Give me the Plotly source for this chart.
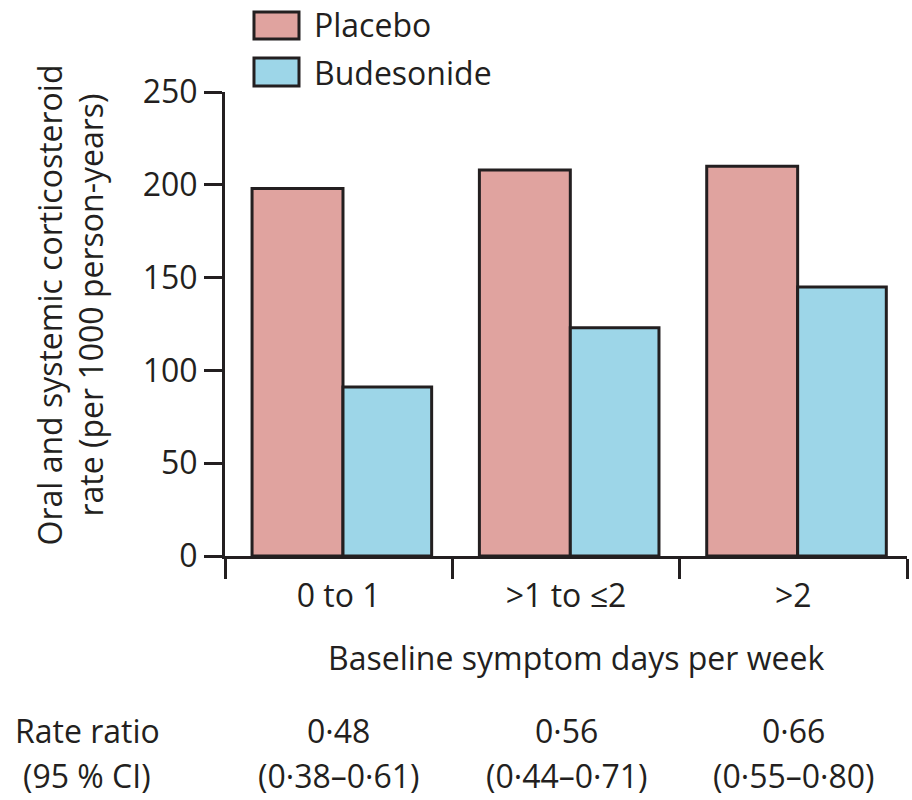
import plotly.graph_objects as go

categories = ["0 to 1", ">1 to ≤2", ">2"]
placebo = [198, 208, 210]
budesonide = [91, 123, 145]
rate_ratio = ["0·48", "0·56", "0·66"]
ci = ["(0·38–0·61)", "(0·44–0·71)", "(0·55–0·80)"]
y_ticks = [0, 50, 100, 150, 200, 250]

INK = "#231f20"
FONT = "Open Sans"
FS = 32
PLACEBO_C = "#e0a39f"
BUDE_C = "#9dd6e8"

fig = go.Figure()
fig.add_trace(go.Bar(name="Placebo", x=categories, y=placebo, width=0.40, offset=-0.381,
                     marker=dict(color=PLACEBO_C, line=dict(color=INK, width=3))))
fig.add_trace(go.Bar(name="Budesonide", x=categories, y=budesonide, width=0.39, offset=0.019,
                     marker=dict(color=BUDE_C, line=dict(color=INK, width=3))))

fig.update_layout(
    width=912, height=800,
    margin=dict(l=225, r=5, t=92, b=244),
    paper_bgcolor="white", plot_bgcolor="white",
    barmode="overlay",
    showlegend=False,
    font=dict(family=FONT, size=FS, color=INK),
)
fig.update_xaxes(
    type="category", range=[-0.5, 2.5],
    showline=True, linecolor=INK, linewidth=3,
    ticks="outside", tickson="boundaries", ticklen=20, tickwidth=3, tickcolor=INK,
    tickfont=dict(family=FONT, size=FS, color=INK),
    ticklabelstandoff=10,
    showgrid=False, zeroline=False,
)
fig.update_yaxes(
    range=[0, 250], tickvals=y_ticks,
    showline=True, linecolor=INK, linewidth=3,
    ticks="outside", ticklen=18, tickwidth=3, tickcolor=INK,
    tickfont=dict(family=FONT, size=FS, color=INK),
    ticklabelstandoff=0,
    showgrid=False, zeroline=False,
)

# legend (manual)
legend_items = [("Placebo", PLACEBO_C, 1.1142, 1.1724, 1.1444),
                ("Budesonide", BUDE_C, 1.0129, 1.0733, 1.0431)]
for name, col, y0, y1, yt in legend_items:
    fig.add_shape(type="rect", xref="paper", yref="paper",
                  x0=0.0425, x1=0.1085, y0=y0, y1=y1,
                  fillcolor=col, line=dict(color=INK, width=3))
    fig.add_annotation(text=name, xref="paper", yref="paper", x=0.127, y=yt,
                       xanchor="left", yanchor="middle", showarrow=False,
                       font=dict(family=FONT, size=FS, color=INK))

# y-axis title
fig.add_annotation(text="Oral and systemic corticosteroid<br>rate (per 1000 person-years)",
                   xref="paper", yref="paper", x=-0.2265, y=0.541,
                   xanchor="center", yanchor="middle", textangle=-90, showarrow=False,
                   font=dict(family=FONT, size=FS, color=INK))
# x-axis title
fig.add_annotation(text="Baseline symptom days per week", xref="paper", yref="paper",
                   x=0.515, y=-0.2198, xanchor="center", yanchor="middle", showarrow=False,
                   font=dict(family=FONT, size=FS, color=INK))

# rate ratio rows
fig.add_annotation(text="Rate ratio", xref="paper", yref="paper", x=-0.2023, y=-0.375,
                   xanchor="center", yanchor="middle", showarrow=False,
                   font=dict(family=FONT, size=FS, color=INK))
fig.add_annotation(text="(95 % CI)", xref="paper", yref="paper", x=-0.2023, y=-0.472,
                   xanchor="center", yanchor="middle", showarrow=False,
                   font=dict(family=FONT, size=FS, color=INK))
for c, rr, cc in zip(categories, rate_ratio, ci):
    fig.add_annotation(text=rr, xref="x", yref="paper", x=c, y=-0.375,
                       xanchor="center", yanchor="middle", showarrow=False,
                       font=dict(family=FONT, size=FS, color=INK))
    fig.add_annotation(text=cc, xref="x", yref="paper", x=c, y=-0.472,
                       xanchor="center", yanchor="middle", showarrow=False,
                       font=dict(family=FONT, size=FS, color=INK))

fig.write_html("out.html", config={"displayModeBar": False},
               post_script="document.body.style.margin='0';document.body.style.overflow='hidden';")
